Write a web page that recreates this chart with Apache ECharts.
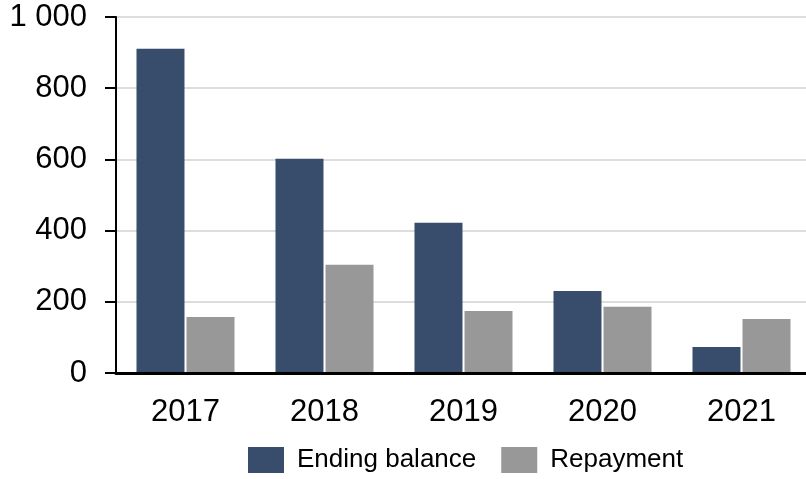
<!DOCTYPE html>
<html>
<head>
<meta charset="utf-8">
<script src="https://cdn.jsdelivr.net/npm/echarts@6/dist/echarts.min.js"></script>
<style>
html, body { margin: 0; padding: 0; background: #fff; overflow: hidden; }
#main { width: 811px; height: 479px; }
</style>
</head>
<body>
<div id="main"></div>
<script>
var years = ['2017', '2018', '2019', '2020', '2021'];
var endingBalance = [911, 602, 422, 230, 73];
var repayment = [157, 304, 174, 186, 152];
var seriesNames = ['Ending balance', 'Repayment'];

// the plot area runs past the right edge of the window, so the div is a bit wider
var myChart = echarts.init(document.getElementById('main'));
var option = {
    animation: false,
    textStyle: { fontFamily: 'Liberation Sans, Arial, sans-serif' },
    grid: { left: 116, right: 0, top: 17, bottom: 106 },
    legend: {
        data: seriesNames,
        left: 248,
        top: 447,
        padding: 0,
        itemWidth: 36,
        itemHeight: 26,
        itemGap: 25,
        icon: 'rect',
        textStyle: { fontSize: 26, color: '#000', padding: [0, 0, 0, 8] }
    },
    xAxis: {
        type: 'category',
        data: years,
        z: 5,
        axisLine: { lineStyle: { color: '#000', width: 3 } },
        axisTick: { show: false },
        axisLabel: { fontSize: 31, color: '#000', margin: 24 }
    },
    yAxis: {
        type: 'value',
        min: 0,
        max: 1000,
        interval: 200,
        axisLine: { show: true, lineStyle: { color: '#000', width: 2 } },
        axisTick: { show: true, length: 11, lineStyle: { color: '#000', width: 2 } },
        axisLabel: {
            fontSize: 31,
            color: '#000',
            margin: 29,
            formatter: function (v) {
                return v >= 1000 ? Math.floor(v / 1000) + ' ' + String(v % 1000).padStart(3, '0') : v;
            }
        },
        splitLine: { lineStyle: { color: '#dddddd', width: 2 } }
    },
    series: [
        {
            name: seriesNames[0],
            type: 'bar',
            data: endingBalance,
            barWidth: 48,
            barGap: '4.2%',
            itemStyle: { color: '#384d6b' }
        },
        {
            name: seriesNames[1],
            type: 'bar',
            data: repayment,
            barWidth: 48,
            itemStyle: { color: '#989898' }
        }
    ]
};
myChart.setOption(option);
</script>
</body>
</html>
